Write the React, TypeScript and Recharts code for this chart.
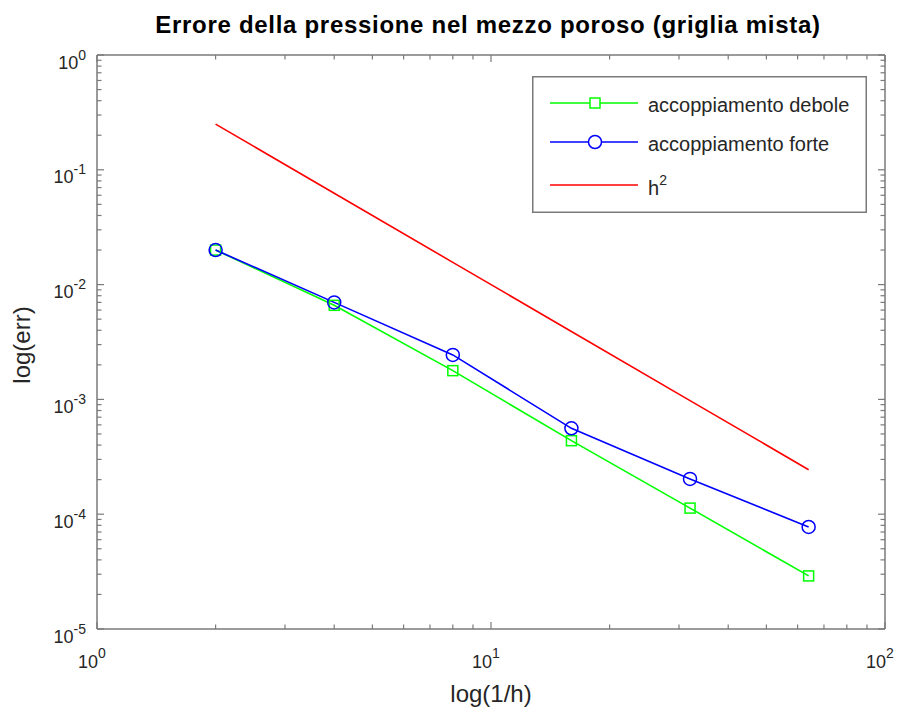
import React from "react";
import { LineChart, Line, XAxis, YAxis, Legend } from "recharts";

document.body.style.margin = "0";

// 1/h values and errors
const meshInv = [2, 4, 8, 16, 32, 64];
const errWeak = [0.02, 0.0066, 0.00178, 0.000437, 0.000113, 0.000029];
const errStrong = [0.02, 0.007, 0.00244, 0.00056, 0.000203, 0.0000774];
const refH2 = [0.25, 0.0625, 0.015625, 0.00390625, 0.0009765625, 0.000244140625];

const seriesNames = ["accoppiamento debole", "accoppiamento forte", "h"];

// log axes: decades get labels, the 2..9 multiples are bare minor ticks
const xDecades = [1, 10, 100];
const xExponents = ["0", "1", "2"];
const yDecades = [1e-5, 1e-4, 1e-3, 1e-2, 1e-1, 1];
const yExponents = ["-5", "-4", "-3", "-2", "-1", "0"];
const minorSteps = [2, 3, 4, 5, 6, 7, 8, 9];

const withMinors = (decades: number[]) => {
  const out: number[] = [];
  decades.forEach((d, i) => {
    out.push(d);
    if (i < decades.length - 1) minorSteps.forEach((m) => out.push(d * m));
  });
  return out;
};
const xTicks = withMinors(xDecades);
const yTicks = withMinors(yDecades);

const data = meshInv.map((x, i) => ({
  x,
  weak: errWeak[i],
  strong: errStrong[i],
  h2: refH2[i],
}));

const AXIS = "#7a7a7a";
const TXT = "#262626";
const FONT = "'Liberation Sans', Arial, Helvetica, sans-serif";
const GREEN = "#00ff00";
const BLUE = "#0000ff";
const RED = "#ff0000";

const expFor = (v: number, decades: number[], exps: string[]) => {
  const i = decades.findIndex((d) => Math.abs(d - v) < d * 1e-6);
  return i >= 0 ? exps[i] : null;
};

const BottomTick = ({ x, y, payload }: any) => {
  const exp = expFor(payload.value, xDecades, xExponents);
  return (
    <g>
      <line x1={x} x2={x} y1={y} y2={y - (exp ? 7 : 4.5)} stroke={AXIS} strokeWidth={1.2} />
      {exp && (
        <>
          <text x={x + 1} y={y + 39} textAnchor="end" fontSize={18} fontFamily={FONT} fill={TXT}>
            10
          </text>
          <text x={x + 1} y={y + 29} fontSize={14} fontFamily={FONT} fill={TXT}>
            {exp}
          </text>
        </>
      )}
    </g>
  );
};

const TopTick = ({ x, y, payload }: any) => {
  const exp = expFor(payload.value, xDecades, xExponents);
  return <line x1={x} x2={x} y1={y} y2={y + (exp ? 7 : 4.5)} stroke={AXIS} strokeWidth={1.2} />;
};

const LeftTick = ({ x, y, payload }: any) => {
  const exp = expFor(payload.value, yDecades, yExponents);
  return (
    <g>
      <line x1={x} x2={x + (exp ? 7 : 4.5)} y1={y} y2={y} stroke={AXIS} strokeWidth={1.2} />
      {exp && (
        <text x={x - 11} y={y + 13.5} textAnchor="end" fontFamily={FONT} fill={TXT}>
          <tspan fontSize={18}>10</tspan>
          <tspan fontSize={14} dy={-9}>
            {exp}
          </tspan>
        </text>
      )}
    </g>
  );
};

const RightTick = ({ x, y, payload }: any) => {
  const exp = expFor(payload.value, yDecades, yExponents);
  return <line x1={x} x2={x - (exp ? 7 : 4.5)} y1={y} y2={y} stroke={AXIS} strokeWidth={1.2} />;
};

const squareDot = (p: any) => (
  <rect
    key={`sq-${p.index}`}
    x={p.cx - 5}
    y={p.cy - 5}
    width={10}
    height={10}
    fill="none"
    stroke={GREEN}
    strokeWidth={1.5}
  />
);

const circleDot = (p: any) => (
  <circle key={`ci-${p.index}`} cx={p.cx} cy={p.cy} r={6.5} fill="none" stroke={BLUE} strokeWidth={1.5} />
);

const LegendBox = () => {
  const rows = [
    { name: seriesNames[0], color: GREEN, marker: "square", ly: 27, ty: 36 },
    { name: seriesNames[1], color: BLUE, marker: "circle", ly: 66, ty: 75 },
    { name: seriesNames[2], color: RED, marker: "none", ly: 109, ty: 119 },
  ];
  return (
    <svg width={335} height={137} style={{ display: "block" }}>
      <rect x={0.75} y={0.75} width={333.5} height={135.5} fill="#fff" stroke={AXIS} strokeWidth={1.5} />
      {rows.map((r, i) => (
        <g key={i}>
          <line x1={18} x2={106} y1={r.ly} y2={r.ly} stroke={r.color} strokeWidth={1.6} />
          {r.marker === "square" && (
            <rect x={58} y={r.ly - 5} width={10} height={10} fill="#fff" stroke={r.color} strokeWidth={1.5} />
          )}
          {r.marker === "circle" && (
            <circle cx={63} cy={r.ly} r={6.5} fill="#fff" stroke={r.color} strokeWidth={1.5} />
          )}
          <text x={116} y={r.ty} fontSize={20} fontFamily={FONT} fill={TXT}>
            {r.name}
            {r.marker === "none" && (
              <tspan fontSize={14} dy={-10}>
                2
              </tspan>
            )}
          </text>
        </g>
      ))}
    </svg>
  );
};

export default function App() {
  return (
    <div style={{ position: "relative", width: 905, height: 708, background: "#fff", overflow: "hidden" }}>
      <LineChart width={905} height={708} data={data} margin={{ top: 54, right: 19, bottom: 19, left: 0 }}>
        <XAxis
          dataKey="x"
          type="number"
          scale="log"
          domain={[1, 100]}
          allowDataOverflow
          ticks={xTicks}
          interval={0}
          height={60}
          tickSize={0}
          tickMargin={0}
          tickLine={false}
          tick={<BottomTick />}
          axisLine={{ stroke: AXIS, strokeWidth: 1.5 }}
        />
        <XAxis
          xAxisId="top"
          orientation="top"
          dataKey="x"
          type="number"
          scale="log"
          domain={[1, 100]}
          allowDataOverflow
          ticks={xTicks}
          interval={0}
          height={1}
          tickSize={0}
          tickMargin={0}
          tickLine={false}
          tick={<TopTick />}
          axisLine={{ stroke: AXIS, strokeWidth: 1.5 }}
        />
        <YAxis
          type="number"
          scale="log"
          domain={[1e-5, 1]}
          allowDataOverflow
          ticks={yTicks}
          interval={0}
          width={97}
          tickSize={0}
          tickMargin={0}
          tickLine={false}
          tick={<LeftTick />}
          axisLine={{ stroke: AXIS, strokeWidth: 1.5 }}
        />
        <YAxis
          yAxisId="right"
          orientation="right"
          type="number"
          scale="log"
          domain={[1e-5, 1]}
          allowDataOverflow
          ticks={yTicks}
          interval={0}
          width={1}
          tickSize={0}
          tickMargin={0}
          tickLine={false}
          tick={<RightTick />}
          axisLine={{ stroke: AXIS, strokeWidth: 1.5 }}
        />
        <Line
          type="linear"
          dataKey="weak"
          name={seriesNames[0]}
          stroke={GREEN}
          strokeWidth={1.6}
          dot={squareDot}
          activeDot={false}
          isAnimationActive={false}
        />
        <Line
          type="linear"
          dataKey="strong"
          name={seriesNames[1]}
          stroke={BLUE}
          strokeWidth={1.6}
          dot={circleDot}
          activeDot={false}
          isAnimationActive={false}
        />
        <Line
          type="linear"
          dataKey="h2"
          name={seriesNames[2]}
          stroke={RED}
          strokeWidth={1.6}
          dot={false}
          activeDot={false}
          isAnimationActive={false}
        />
        <Legend
          layout="vertical"
          align="center"
          verticalAlign="middle"
          content={() => <LegendBox />}
          wrapperStyle={{ position: "absolute", left: 532, top: 76, width: 335, height: 137 }}
        />
      </LineChart>
      <svg width={905} height={708} style={{ position: "absolute", left: 0, top: 0, pointerEvents: "none" }}>
        <text x={488} y={33} textAnchor="middle" fontSize={24} fontWeight="bold" letterSpacing={0.7} fontFamily={FONT} fill="#000">
          Errore della pressione nel mezzo poroso (griglia mista)
        </text>
        <text x={491} y={702} textAnchor="middle" fontSize={24} fontFamily={FONT} fill={TXT}>
          log(1/h)
        </text>
        <text x={30} y={345} textAnchor="middle" fontSize={24} fontFamily={FONT} fill={TXT} transform="rotate(-90 30 345)">
          log(err)
        </text>
      </svg>
    </div>
  );
}
